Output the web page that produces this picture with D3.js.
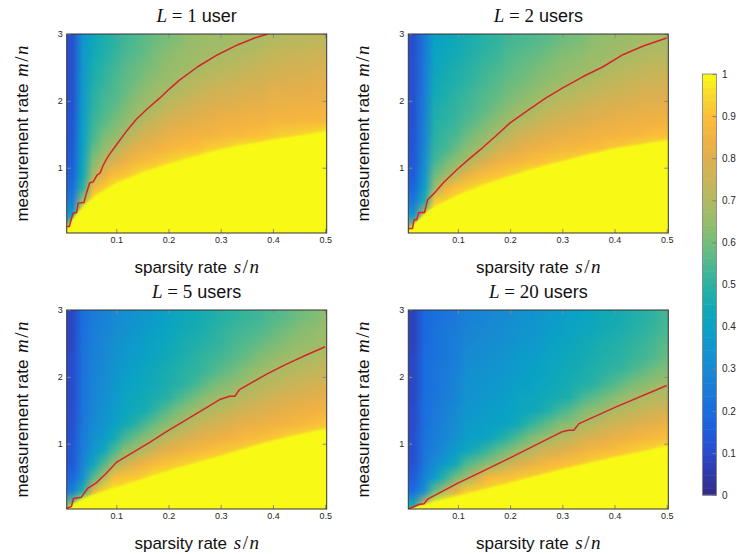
<!DOCTYPE html>
<html>
<head>
<meta charset="utf-8">
<script src="https://cdn.jsdelivr.net/npm/d3@7"></script>
<style>
  body { margin: 0; background: #fff; }
  svg { display: block; }
</style>
</head>
<body>
<svg id="chart" width="739" height="554"></svg>
<script>
// cell centres of the recovery maps
const sparsity = [0.015, 0.035, 0.055, 0.075, 0.095, 0.115, 0.135, 0.155, 0.175, 0.195,
  0.215, 0.235, 0.255, 0.275, 0.295, 0.315, 0.335, 0.355, 0.375, 0.395,
  0.415, 0.435, 0.455, 0.475, 0.495];
// rows, top to bottom
const measurement = [2.9, 2.7, 2.5, 2.3, 2.1, 1.9, 1.7, 1.5, 1.3, 1.1, 0.9, 0.7, 0.5, 0.3, 0.1];

const users = [1, 2, 5, 20];

// values in percent, one row per measurement rate
const rateL1 = [
  [11,34,43,47,50,53,55,57,59,61,62,65,66,67,67,68,68,68,69,71,71,72,72,73,73],
  [11,35,44,48,51,54,56,58,61,63,65,66,67,68,68,69,70,71,72,74,74,75,75,76,76],
  [11,35,46,50,53,56,58,60,62,65,66,67,68,70,71,72,73,74,75,76,77,77,77,78,78],
  [12,36,47,51,54,57,59,62,65,66,68,70,72,73,74,75,76,77,77,79,79,80,80,81,81],
  [12,36,49,53,55,58,62,65,67,69,71,73,75,76,78,78,79,80,80,82,82,82,82,83,83],
  [12,37,50,54,57,61,65,67,70,73,76,77,79,80,81,81,82,83,83,84,84,85,85,85,86],
  [13,38,52,56,60,64,68,72,75,78,80,81,82,83,84,85,85,86,86,87,87,87,88,88,88],
  [13,39,53,60,64,68,74,78,80,82,84,85,86,86,87,88,88,89,90,91,93,93,94,95,97],
  [14,40,57,64,69,76,81,83,85,87,88,89,90,92,93,94,97,97,97,98,100,100,100,100,100],
  [15,42,62,71,79,84,87,89,91,93,95,97,97,100,100,100,100,100,100,100,100,100,100,100,100],
  [17,44,68,83,89,91,94,97,97,100,100,100,100,100,100,100,100,100,100,100,100,100,100,100,100],
  [20,50,88,92,97,99,100,100,100,100,100,100,100,100,100,100,100,100,100,100,100,100,100,100,100],
  [26,68,95,100,100,100,100,100,100,100,100,100,100,100,100,100,100,100,100,100,100,100,100,100,100],
  [38,96,100,100,100,100,100,100,100,100,100,100,100,100,100,100,100,100,100,100,100,100,100,100,100],
  [70,100,100,100,100,100,100,100,100,100,100,100,100,100,100,100,100,100,100,100,100,100,100,100,100]
];
const rateL2 = [
  [11,24,40,42,44,46,48,50,51,53,54,55,56,57,59,60,61,64,65,66,66,67,68,68,68],
  [11,24,41,43,45,47,49,51,52,55,56,57,58,60,62,63,64,66,66,67,68,69,70,71,71],
  [11,25,42,45,47,49,51,53,54,56,58,59,61,62,64,65,66,67,68,70,71,72,73,74,74],
  [11,25,44,46,48,50,52,54,56,58,59,61,63,65,66,68,69,70,72,73,74,75,76,76,77],
  [12,26,45,47,50,52,54,56,57,60,62,64,66,68,70,71,73,74,75,76,77,78,79,79,80],
  [12,26,47,49,51,53,55,57,60,63,66,67,70,72,74,75,76,78,79,80,80,81,82,82,83],
  [12,27,48,50,52,55,57,61,64,67,70,72,75,77,78,79,80,81,82,83,84,84,85,85,86],
  [13,28,49,52,54,58,62,65,68,72,76,78,80,81,82,83,84,85,86,86,87,87,88,89,90],
  [13,29,51,53,58,63,66,70,76,79,81,83,85,86,87,87,88,89,90,92,92,94,95,97,97],
  [14,31,53,59,64,68,75,80,84,86,87,89,90,92,93,94,95,97,97,100,100,100,100,100,100],
  [15,34,59,65,73,83,87,89,91,93,94,97,97,100,100,100,100,100,100,100,100,100,100,100,100],
  [18,39,65,85,90,93,95,97,97,100,100,100,100,100,100,100,100,100,100,100,100,100,100,100,100],
  [24,47,92,94,97,100,100,100,100,100,100,100,100,100,100,100,100,100,100,100,100,100,100,100,100],
  [35,75,100,100,100,100,100,100,100,100,100,100,100,100,100,100,100,100,100,100,100,100,100,100,100],
  [68,100,100,100,100,100,100,100,100,100,100,100,100,100,100,100,100,100,100,100,100,100,100,100,100]
];
const rateL5 = [
  [9,21,25,27,30,32,34,36,38,40,42,44,45,47,48,50,51,52,53,55,56,58,60,61,64],
  [9,21,26,28,31,33,35,37,39,41,43,45,46,48,50,52,53,54,55,57,59,61,63,64,66],
  [9,22,26,29,32,35,37,39,41,43,45,47,48,50,51,53,55,56,58,60,62,64,65,66,67],
  [10,22,27,29,33,36,38,40,42,44,46,48,50,52,53,55,57,59,62,64,66,67,68,69,71],
  [10,22,27,30,34,38,40,42,44,46,48,50,51,53,56,58,61,64,66,68,69,71,72,73,74],
  [10,23,28,31,35,39,41,43,45,47,49,51,54,58,61,63,66,68,70,72,73,75,76,77,78],
  [10,23,28,32,36,41,43,45,47,49,53,57,61,64,67,68,71,73,75,76,78,79,80,81,82],
  [11,23,29,33,37,42,44,46,51,56,60,64,67,70,72,74,76,78,79,81,82,83,84,85,86],
  [11,24,30,34,40,44,49,54,59,63,67,70,74,76,78,80,82,83,84,85,86,87,88,89,91],
  [12,25,32,37,45,53,58,63,67,72,76,78,81,83,84,85,87,88,89,91,92,94,95,97,97],
  [13,26,35,43,54,63,67,73,78,82,84,86,88,89,91,92,93,95,97,97,100,100,100,100,100],
  [14,28,42,55,67,76,82,86,89,91,92,94,95,97,97,100,100,100,100,100,100,100,100,100,100],
  [18,32,55,69,89,91,92,94,97,97,100,100,100,100,100,100,100,100,100,100,100,100,100,100,100],
  [26,48,82,94,97,97,100,100,100,100,100,100,100,100,100,100,100,100,100,100,100,100,100,100,100],
  [60,100,100,100,100,100,100,100,100,100,100,100,100,100,100,100,100,100,100,100,100,100,100,100,100]
];
const rateL20 = [
  [8,19,21,23,24,27,28,29,30,31,33,34,35,37,38,40,41,42,44,45,46,48,49,51,53],
  [8,19,22,24,25,28,29,30,31,32,34,35,36,38,39,41,42,43,45,46,47,49,50,52,54],
  [8,19,22,24,26,29,30,31,32,33,35,36,37,39,41,42,44,45,47,48,49,51,52,54,56],
  [9,20,22,24,26,30,31,32,34,35,37,38,39,41,42,44,45,46,48,49,50,52,53,55,58],
  [9,20,23,25,27,32,33,34,35,36,38,39,40,42,43,45,46,48,49,51,52,55,57,60,62],
  [9,20,23,25,28,33,34,35,36,37,39,40,42,43,45,46,48,49,52,55,58,61,63,65,67],
  [9,21,23,26,28,34,35,36,37,39,41,42,43,45,46,48,53,56,59,62,65,67,69,71,72],
  [10,21,24,27,30,35,36,38,39,40,42,43,45,49,53,56,61,64,66,69,71,73,75,76,78],
  [10,21,25,28,31,37,38,39,40,41,45,50,54,58,62,64,68,71,74,76,78,79,81,82,84],
  [11,22,26,29,33,38,39,41,46,50,55,60,64,67,71,73,77,79,81,83,84,86,87,88,89],
  [11,23,27,32,37,43,47,52,57,61,66,70,75,78,80,82,85,87,88,89,91,92,94,95,97],
  [12,24,31,38,45,55,59,64,68,75,80,83,86,88,89,91,92,94,95,97,97,100,100,100,100],
  [15,27,38,50,60,66,77,87,89,90,92,93,94,95,97,97,100,100,100,100,100,100,100,100,100],
  [20,33,58,70,82,92,93,95,97,97,100,100,100,100,100,100,100,100,100,100,100,100,100,100,100],
  [45,75,98,100,100,100,100,100,100,100,100,100,100,100,100,100,100,100,100,100,100,100,100,100,100]
];

// edge of the full-recovery (yellow) region (sparsity, measurement)
const edgeS = [0.005, 0.012, 0.024, 0.043, 0.063, 0.1, 0.15, 0.2, 0.25, 0.3, 0.35, 0.4, 0.45, 0.5];
const edgeML1 = [0.09, 0.19, 0.32, 0.47, 0.6, 0.77, 0.93, 1.06, 1.17, 1.28, 1.35, 1.42, 1.48, 1.54];
const edgeML2 = [0.07, 0.14, 0.22, 0.36, 0.45, 0.59, 0.75, 0.88, 1.0, 1.1, 1.2, 1.29, 1.35, 1.41];
const edgeML5 = [0.04, 0.08, 0.13, 0.2, 0.26, 0.35, 0.47, 0.6, 0.71, 0.82, 0.94, 1.05, 1.14, 1.22];
const edgeML20 = [0.02, 0.04, 0.07, 0.11, 0.15, 0.22, 0.32, 0.42, 0.52, 0.62, 0.71, 0.8, 0.88, 0.97];

// red transition curves (sparsity, measurement)
const curveSL1 = [0.005,0.01,0.017,0.024,0.027,0.038,0.043,0.049,0.056,0.063,0.069,0.075,0.082,0.088,0.1,0.119,0.138,0.158,0.183,0.202,0.221,0.256,0.294,0.333,0.365,0.39];
const curveML1 = [0.12,0.12,0.32,0.33,0.47,0.48,0.62,0.77,0.79,0.89,0.92,1.04,1.14,1.21,1.34,1.54,1.72,1.87,2.04,2.18,2.31,2.51,2.69,2.84,2.94,3.0];
const curveSL2 = [0.005,0.013,0.016,0.021,0.025,0.036,0.042,0.055,0.074,0.098,0.12,0.146,0.172,0.2,0.236,0.268,0.3,0.339,0.378,0.416,0.455,0.5];
const curveML2 = [0.09,0.09,0.22,0.22,0.33,0.33,0.52,0.62,0.79,0.97,1.12,1.29,1.47,1.67,1.87,2.04,2.19,2.36,2.51,2.69,2.82,2.94];
const curveSL5 = [0.005,0.014,0.018,0.033,0.045,0.061,0.08,0.1,0.132,0.164,0.196,0.228,0.26,0.298,0.317,0.327,0.336,0.388,0.426,0.465,0.5];
const curveML5 = [0.035,0.06,0.18,0.2,0.33,0.41,0.55,0.72,0.87,1.02,1.18,1.33,1.48,1.66,1.71,1.71,1.81,2.04,2.19,2.33,2.45];
const curveSL20 = [0.005,0.013,0.025,0.035,0.042,0.1,0.148,0.198,0.3,0.312,0.322,0.332,0.403,0.5];
const curveML20 = [0.02,0.05,0.09,0.1,0.17,0.41,0.59,0.78,1.18,1.2,1.2,1.3,1.55,1.87];

const xTicks = [0.1, 0.2, 0.3, 0.4, 0.5];
const yTicks = [1, 2, 3];
const colorTicks = [0, 0.1, 0.2, 0.3, 0.4, 0.5, 0.6, 0.7, 0.8, 0.9, 1];

const panels = [
  {grid: rateL1, edge: edgeML1, cs: curveSL1, cm: curveML1},
  {grid: rateL2, edge: edgeML2, cs: curveSL2, cm: curveML2},
  {grid: rateL5, edge: edgeML5, cs: curveSL5, cm: curveML5},
  {grid: rateL20, edge: edgeML20, cs: curveSL20, cm: curveML20}
];

// parula-like colour map
const parula = ['#352a87','#3038a6','#2a4bcc','#1f5ddc','#1a6ce0','#1b7bd9','#188ad3','#1196cd',
  '#0aa2c6','#13aab5','#2bb2a3','#4fb98f','#75bd7b','#95bd6c','#b0ba62','#c9b558',
  '#deb04f','#f1b243','#fcbe3a','#f7d92c','#f8fa14'];
const color = d3.scaleLinear()
  .domain(parula.map((c, i) => i * 100 / (parula.length - 1)))
  .range(parula)
  .clamp(true);

const SANS = '"Liberation Sans", Arial, sans-serif';
const SERIF = '"Liberation Serif", "Times New Roman", serif';
const W = 260, H = 199;
const origins = [[66.7, 34], [408.3, 34], [66.7, 310], [408.3, 310]];

const svg = d3.select('#chart');

const defs = svg.append('defs');
defs.append('filter').attr('id', 'soft')
  .attr('x', '-5%').attr('y', '-5%').attr('width', '110%').attr('height', '110%')
  .append('feGaussianBlur').attr('stdDeviation', 1.3);

function styleAxis(g) {
  g.select('.domain').remove();
  g.selectAll('.tick line').attr('stroke', '#8a8a8a');
  g.selectAll('text').attr('fill', '#262626').style('font-size', '9px').style('font-family', SANS);
}

function mathLabel(text, word, v1, v2) {
  text.append('tspan').attr('font-family', SANS).text(word + ' ');
  text.append('tspan').attr('font-family', SERIF).attr('font-style', 'italic').style('font-size', '19px').attr('dx', 2).text(v1);
  text.append('tspan').attr('font-family', SERIF).style('font-size', '19px').attr('dx', 1.5).text('/');
  text.append('tspan').attr('font-family', SERIF).attr('font-style', 'italic').style('font-size', '19px').attr('dx', 1.5).text(v2);
}

panels.forEach((p, k) => {
  const g = svg.append('g').attr('transform', `translate(${origins[k][0]},${origins[k][1]})`);
  const x = d3.scaleLinear().domain([0.005, 0.503]).range([0, W]);
  const y = d3.scaleLinear().domain([0.023, 3]).range([H, 0]);

  const clipId = 'clip' + k;
  g.append('clipPath').attr('id', clipId).append('rect').attr('width', W).attr('height', H);
  const plot = g.append('g').attr('clip-path', `url(#${clipId})`);

  // one pixel per cell, the browser smooths it when scaled
  const cv = document.createElement('canvas');
  cv.width = sparsity.length;
  cv.height = measurement.length;
  const ctx = cv.getContext('2d');
  p.grid.forEach((row, i) => row.forEach((v, j) => {
    ctx.fillStyle = color(v);
    ctx.fillRect(j, i, 1, 1);
  }));
  const ds = sparsity[1] - sparsity[0];
  const dm = measurement[0] - measurement[1];
  plot.append('image')
    .attr('href', cv.toDataURL())
    .attr('x', x(sparsity[0] - ds / 2))
    .attr('y', y(measurement[0] + dm / 2))
    .attr('width', x(sparsity[sparsity.length - 1] + ds / 2) - x(sparsity[0] - ds / 2))
    .attr('height', y(measurement[measurement.length - 1] - dm / 2) - y(measurement[0] + dm / 2))
    .attr('preserveAspectRatio', 'none');

  // full recovery region, edge
  const pts = d3.zip(edgeS, p.edge).map(d => [x(d[0]), y(d[1])]);
  pts.unshift([pts[0][0] - 8, pts[0][1]]);
  pts.push([pts[pts.length - 1][0] + 8, pts[pts.length - 1][1]]);
  plot.append('path')
    .datum(pts)
    .attr('d', d3.area().x(d => d[0]).y0(H + 8).y1(d => d[1]))
    .attr('fill', color(100))
    .attr('filter', 'url(#soft)');

  const line = d3.line().x(d => x(d[0])).y(d => y(d[1]));
  plot.append('path')
    .datum(d3.zip(p.cs, p.cm))
    .attr('d', line)
    .attr('fill', 'none')
    .attr('stroke', '#d7232b')
    .attr('stroke-width', 1.5)
    .attr('stroke-linejoin', 'round');

  g.append('g').attr('transform', `translate(0,${H})`)
    .call(d3.axisBottom(x).tickValues(xTicks).tickSizeInner(-4).tickSizeOuter(0).tickPadding(4).tickFormat(d3.format('.1f')))
    .call(styleAxis);
  g.append('g')
    .call(d3.axisTop(x).tickValues(xTicks).tickSizeInner(-4).tickSizeOuter(0).tickFormat(() => ''))
    .call(styleAxis);
  g.append('g')
    .call(d3.axisLeft(y).tickValues(yTicks).tickSizeInner(-4).tickSizeOuter(0).tickPadding(4).tickFormat(d3.format('d')))
    .call(styleAxis);
  g.append('g').attr('transform', `translate(${W},0)`)
    .call(d3.axisRight(y).tickValues(yTicks).tickSizeInner(-4).tickSizeOuter(0).tickFormat(() => ''))
    .call(styleAxis);

  g.append('rect')
    .attr('width', W).attr('height', H)
    .attr('fill', 'none').attr('stroke', '#333').attr('stroke-width', 1);

  // title
  const t = g.append('text')
    .attr('x', W / 2).attr('y', -12)
    .attr('text-anchor', 'middle')
    .attr('fill', '#111')
    .style('font-size', '18px');
  t.append('tspan').attr('font-family', SERIF).attr('font-style', 'italic').style('font-size', '19px').text('L');
  t.append('tspan').attr('font-family', SERIF).style('font-size', '19px').text(' = ' + users[k]);
  t.append('tspan').attr('font-family', SANS).text(users[k] === 1 ? ' user' : ' users');

  // axis labels
  const xl = g.append('text')
    .attr('x', W / 2).attr('y', H + 40)
    .attr('text-anchor', 'middle').attr('fill', '#111')
    .style('font-size', '17px');
  mathLabel(xl, 'sparsity rate', 's', 'n');

  const yl = g.append('text')
    .attr('transform', `translate(-39,${H / 2}) rotate(-90)`)
    .attr('text-anchor', 'middle').attr('fill', '#111')
    .style('font-size', '17px');
  mathLabel(yl, 'measurement rate', 'm', 'n');
});

// colour bar
const cy = d3.scaleLinear().domain([0, 1]).range([495, 74]);
const cbar = svg.append('g');
const levels = d3.range(64);
cbar.selectAll('rect.lvl')
  .data(levels)
  .enter()
  .append('rect')
  .attr('class', 'lvl')
  .attr('x', 702.5)
  .attr('width', 14)
  .attr('y', d => cy((d + 1) / 64))
  .attr('height', d => cy(d / 64) - cy((d + 1) / 64) + 0.5)
  .attr('fill', d => color((d + 0.5) / 64 * 100));
cbar.append('rect')
  .attr('x', 702.5).attr('y', cy(1)).attr('width', 14).attr('height', cy(0) - cy(1))
  .attr('fill', 'none').attr('stroke', '#7f7f7f').attr('stroke-width', 0.8);
cbar.append('g').attr('transform', 'translate(716.5,0)')
  .call(d3.axisRight(cy).tickValues(colorTicks).tickSizeInner(-4).tickSizeOuter(0).tickPadding(5.5).tickFormat(d3.format('~g')))
  .call(g => {
    g.select('.domain').remove();
    g.selectAll('.tick line').attr('stroke', '#7f7f7f');
    g.selectAll('text').attr('fill', '#262626').style('font-size', '10px').style('font-family', SANS);
  });
</script>
</body>
</html>
